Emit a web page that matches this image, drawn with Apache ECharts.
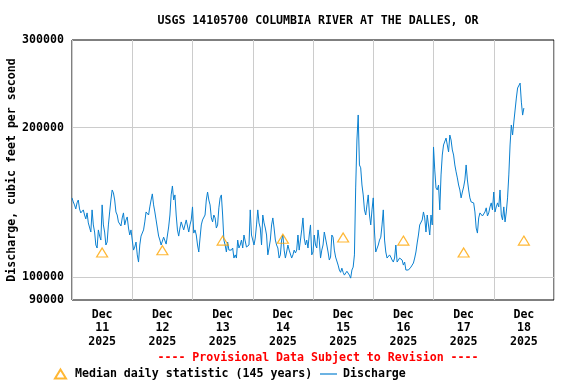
<!DOCTYPE html>
<html><head><meta charset="utf-8">
<script src="https://cdn.jsdelivr.net/npm/echarts@6/dist/echarts.min.js"></script>
<style>html,body{margin:0;padding:0;background:#fff}#c{width:576px;height:384px}</style>
</head><body><div id="c"></div>
<script>
const DAY = 86400000, MIN30 = 1800000;
const xStart = Date.UTC(2025, 11, 11);
const xEnd = Date.UTC(2025, 11, 19);
const xTickLabels = ['Dec\n11\n2025', 'Dec\n12\n2025', 'Dec\n13\n2025', 'Dec\n14\n2025',
                     'Dec\n15\n2025', 'Dec\n16\n2025', 'Dec\n17\n2025', 'Dec\n18\n2025'];
const yTickValues = [90000, 100000, 200000, 300000];
const yGridValues = [100000, 200000];
const medianDays = [11, 12, 13, 14, 15, 16, 17, 18];
const medianValues = [112100, 113300, 118500, 119500, 120200, 118500, 112100, 118500];
// half-hourly discharge readings starting Dec 11 00:00
const dischargeStart = Date.UTC(2025, 11, 11, 0, 0);
const dischargeValues = [
  144400, 141700, 139800, 137200, 141100, 143000, 137200, 134700, 135300, 136600,
  133400, 131000, 134700, 128600, 129200, 123300, 136600, 127400, 123300, 116100,
  114500, 124500, 121000, 118800, 139800, 127400, 123300, 116100, 117700, 127400,
  135300, 143000, 149800, 147800, 143000, 135300, 133400, 129200, 129200, 126800,
  131600, 134700, 127400, 130400, 132200, 125600, 121600, 124500, 118800, 113400,
  115000, 117700, 110900, 107300, 116100, 121000, 120400, 124500, 129200, 135300,
  134700, 133400, 138500, 143000, 147100, 139800, 135300, 130400, 125600, 121000,
  118800, 116100, 116600, 120400, 119900, 116600, 117200, 126200, 133400, 146400,
  152600, 143000, 146400, 133400, 124500, 121000, 125600, 129200, 130400, 124500,
  127400, 130400, 131600, 123300, 127400, 130400, 138500, 122700, 124500, 121600,
  116100, 112400, 119900, 127400, 130400, 129200, 133400, 143000, 148400, 143000,
  139800, 131600, 129200, 133400, 131600, 125600, 127400, 137900, 144400, 146400,
  133400, 118800, 116100, 112400, 117700, 113400, 112400, 113400, 114500, 109300,
  110900, 109300, 118800, 114500, 116100, 118800, 114500, 121600, 121600, 115000,
  114500, 116100, 136600, 121600, 118800, 116100, 119900, 127400, 136600, 128600,
  125600, 116100, 133400, 128600, 125600, 121600, 110900, 114500, 118800, 127400,
  131600, 125600, 118800, 116100, 114500, 109300, 110900, 118800, 121600, 113400,
  109300, 112400, 116100, 113400, 113400, 109300, 110900, 113400, 111900, 113400,
  121600, 113400, 118800, 124500, 131600, 119900, 116100, 118800, 114500, 121600,
  127400, 110900, 112400, 121600, 116100, 114500, 124500, 118800, 109300, 113400,
  116100, 123300, 122700, 116100, 112400, 108300, 109800, 121600, 120400, 113400,
  109800, 109300, 105800, 103400, 102300, 104300, 102300, 101000, 100100, 102800,
  102300, 101000, 99600, 103400, 104800, 110900, 151200, 188800, 212000, 168200,
  166000, 153300, 146400, 136600, 133400, 139800, 146400, 133400, 127400, 136600,
  144400, 123300, 112400, 113400, 116100, 118800, 120400, 127400, 136600, 118800,
  112400, 109300, 109300, 110900, 109800, 108300, 107300, 109300, 116100, 107300,
  106800, 109300, 109300, 108300, 105800, 107300, 103400, 104300, 103400, 104300,
  104800, 105800, 106800, 109300, 112400, 117200, 121600, 127400, 127400, 130400,
  135300, 131600, 123300, 133400, 133400, 121600, 133400, 127400, 182800, 164400,
  151200, 149800, 153300, 136600, 160600, 176100, 184500, 182800, 190500, 184500,
  178600, 193200, 188800, 180300, 176100, 168200, 162900, 158400, 153300, 149800,
  144400, 148400, 151900, 156900, 168200, 156900, 149800, 144400, 141700, 143000,
  141100, 135300, 125600, 122700, 131600, 134700, 134700, 132800, 133400, 135300,
  137900, 132800, 134700, 138500, 141100, 136600, 148400, 135300, 138500, 141100,
  138500, 149800, 133400, 130400, 138500, 129200, 135300, 144400, 160600, 184500,
  202400, 193200, 205200, 216900, 229300, 240200, 240000, 245700, 225000, 211900,
  218900
];

const FONT = 'DejaVu Sans Mono';
const lineData = dischargeValues.map((v, i) => [dischargeStart + i * MIN30, v]);
const medianData = medianDays.map((d, i) => [Date.UTC(2025, 11, d, 12), medianValues[i]]);
const xLabelValues = xTickLabels.map((s, i) => xStart + i * DAY + DAY / 2);

const chart = echarts.init(document.getElementById('c'), null, {renderer: 'canvas'});
chart.setOption({
  animation: false,
  backgroundColor: '#fff',
  title: [{
    text: 'USGS 14105700 COLUMBIA RIVER AT THE DALLES, OR',
    left: 313, top: 10, textAlign: 'center',
    textStyle: {fontFamily: FONT, fontWeight: 'bold', fontSize: 11.6, color: '#000'}
  }, {
    text: '---- Provisional Data Subject to Revision ----',
    left: 313, top: 347, textAlign: 'center',
    textStyle: {fontFamily: FONT, fontWeight: 'bold', fontSize: 11.6, color: '#f00'}
  }],
  legend: [{
    left: 54, top: 368, itemWidth: 11, itemHeight: 9, padding: 0,
    data: [{name: 'Median daily statistic (145 years)', icon: 'triangle'}],
    textStyle: {fontFamily: FONT, fontWeight: 'bold', fontSize: 11.6, color: '#000', padding: [0, 0, 0, 4]}
  }, {
    left: 320, top: 368, itemWidth: 17, itemHeight: 9, padding: 0,
    data: [{name: 'Discharge', icon: 'path://M0,4.2 L17,4.2 L17,5.4 L0,5.4 Z'}],
    textStyle: {fontFamily: FONT, fontWeight: 'bold', fontSize: 11.6, color: '#000', padding: [0, 0, 0, 1]}
  }],
  grid: {left: 72, right: 22, top: 40, bottom: 84, outerBoundsMode: 'none', containLabel: false,
         show: true, borderColor: '#000', borderWidth: 1, backgroundColor: 'transparent'},
  xAxis: {
    type: 'value', min: xStart, max: xEnd, interval: DAY,
    axisLine: {show: false}, axisTick: {show: false},
    splitLine: {show: true, lineStyle: {color: '#ccc', width: 1}},
    axisLabel: {
      customValues: xLabelValues,
      formatter: (v) => xTickLabels[Math.round((v - xStart - DAY / 2) / DAY)],
      fontFamily: FONT, fontWeight: 'bold', fontSize: 11.6, color: '#000', lineHeight: 13.5, margin: 8
    }
  },
  yAxis: {
    type: 'log', logBase: 10, min: 90000, max: 300000,
    name: 'Discharge, cubic feet per second', nameLocation: 'middle', nameGap: 54,
    nameMoveOverlap: false,
    nameTextStyle: {fontFamily: FONT, fontWeight: 'bold', fontSize: 11.6, color: '#000'},
    axisLine: {show: false},
    axisTick: {show: false, customValues: yGridValues},
    splitLine: {show: true, lineStyle: {color: '#ccc', width: 1}},
    axisLabel: {
      customValues: yTickValues, formatter: (v) => String(Math.round(v)),
      fontFamily: FONT, fontWeight: 'bold', fontSize: 11.6, color: '#000', margin: 8
    }
  },
  series: [{
    name: 'Discharge', type: 'line', data: lineData, symbol: 'none',
    lineStyle: {color: '#0a80d0', width: 1}, itemStyle: {color: '#0a80d0'}, z: 2
  }, {
    name: 'Median daily statistic (145 years)', type: 'scatter', data: medianData,
    symbol: 'triangle', symbolSize: [11, 9],
    itemStyle: {color: 'rgba(0,0,0,0)', borderColor: '#ffa500', borderWidth: 1.2}, z: 3
  }]
});
</script></body></html>
